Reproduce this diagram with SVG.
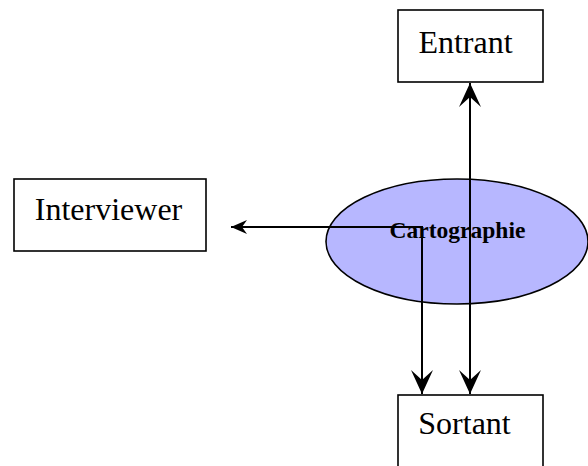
<svg xmlns="http://www.w3.org/2000/svg" width="588" height="466" viewBox="0 0 588 466">
<style>
.box{fill:#fff;stroke:#000;stroke-width:1.6}
.lbl{font-family:"Liberation Serif","Times New Roman",serif;font-size:32px;fill:#000}
.ln{fill:none;stroke:#000;stroke-width:2}
</style>
<defs>
<marker id="big" viewBox="0 0 24 22" refX="24" refY="11" markerWidth="24" markerHeight="22" markerUnits="userSpaceOnUse" orient="auto-start-reverse">
<path d="M0,0 L24,11 L0,22 L10,11 Z" fill="#000"/>
</marker>
<marker id="small" viewBox="0 0 16 14" refX="16" refY="7" markerWidth="16" markerHeight="14" markerUnits="userSpaceOnUse" orient="auto">
<path d="M0,0 L16,7 L0,14 L5,7 Z" fill="#000"/>
</marker>
</defs>
<rect width="588" height="466" fill="#fff"/>
<g id="entrant"><rect class="box" x="398" y="10" width="145" height="72"/><text class="lbl" x="465.5" y="53" text-anchor="middle">Entrant</text></g>
<g id="interviewer"><rect class="box" x="14" y="179" width="192" height="72"/><text class="lbl" x="108.5" y="220" text-anchor="middle">Interviewer</text></g>
<g id="sortant"><rect class="box" x="398" y="395" width="145" height="80"/><text class="lbl" x="464.5" y="434" text-anchor="middle">Sortant</text></g>
<g id="cartographie"><ellipse cx="457" cy="241.5" rx="131" ry="62.5" fill="#b7b7ff" stroke="#000" stroke-width="1.6"/><text x="457.5" y="238" text-anchor="middle" font-family="Liberation Serif,Times New Roman,serif" font-weight="bold" font-size="23.5">Cartographie</text></g>
<g id="connectors">
<line class="ln" x1="470" y1="394" x2="470" y2="83" marker-start="url(#big)" marker-end="url(#big)"/>
<polyline class="ln" points="422,394 422,227 231,227" marker-end="url(#small)"/>
<line class="ln" x1="422" y1="300" x2="422" y2="394" marker-end="url(#big)"/>
</g>
</svg>
